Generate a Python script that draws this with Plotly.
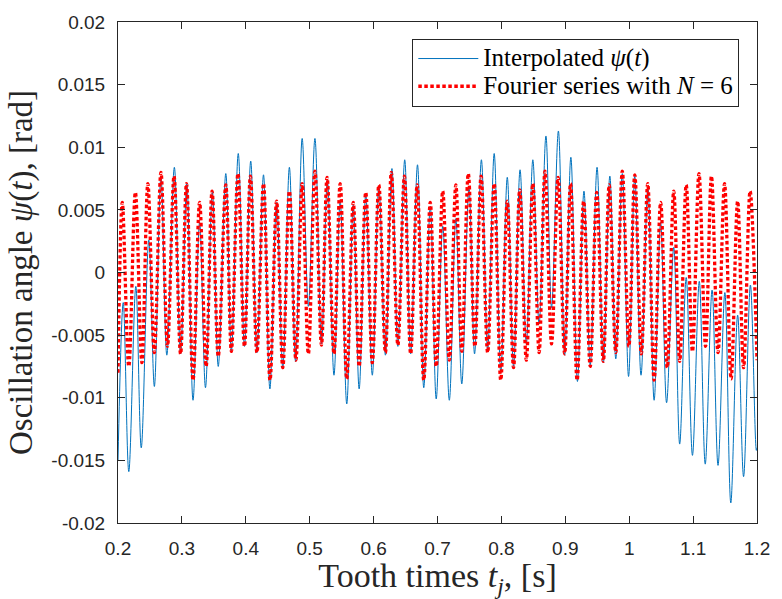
import plotly.graph_objects as go

# ---- data (extrema of each oscillation) ----
t_interp = [0.2000, 0.2082, 0.2169, 0.2279, 0.2364, 0.2482, 0.2569, 0.2672, 0.2764, 0.2882,
            0.2979, 0.3077, 0.3174, 0.3277, 0.3369, 0.3477, 0.3569, 0.3687, 0.3774, 0.3882,
            0.3979, 0.4077, 0.4174, 0.4277, 0.4377, 0.4482, 0.4579, 0.4682, 0.4779, 0.4882,
            0.4979, 0.5082, 0.5184, 0.5277, 0.5380, 0.5477, 0.5580, 0.5682, 0.5774, 0.5877,
            0.5980, 0.6082, 0.6185, 0.6287, 0.6380, 0.6487, 0.6580, 0.6687, 0.6785, 0.6887,
            0.6980, 0.7082, 0.7185, 0.7287, 0.7380, 0.7492, 0.7580, 0.7687, 0.7785, 0.7887,
            0.7990, 0.8092, 0.8190, 0.8292, 0.8390, 0.8492, 0.8590, 0.8697, 0.8785, 0.8892,
            0.8990, 0.9087, 0.9190, 0.9292, 0.9390, 0.9497, 0.9595, 0.9697, 0.9790, 0.9892,
            0.9990, 1.0087, 1.0185, 1.0292, 1.0390, 1.0492, 1.0585, 1.0697, 1.0790, 1.0892,
            1.0990, 1.1097, 1.1190, 1.1297, 1.1390, 1.1497, 1.1590, 1.1697, 1.1790, 1.1897,
            1.1990, 1.2000]
psi_interp = [-0.0150, -0.0024, -0.0159, -0.0011, -0.0140, 0.0026, -0.0091, 0.0077, -0.0066, 0.0084,
              -0.0065, 0.0071, -0.0102, 0.0040, -0.0092, 0.0064, -0.0075, 0.0079, -0.0063, 0.0095,
              -0.0059, 0.0089, -0.0064, 0.0078, -0.0093, 0.0056, -0.0076, 0.0084, -0.0071, 0.0107,
              -0.0027, 0.0107, -0.0057, 0.0074, -0.0082, 0.0057, -0.0105, 0.0054, -0.0093, 0.0062,
              -0.0082, 0.0069, -0.0066, 0.0083, -0.0059, 0.0090, -0.0065, 0.0086, -0.0092, 0.0053,
              -0.0101, 0.0037, -0.0102, 0.0043, -0.0089, 0.0068, -0.0065, 0.0090, -0.0062, 0.0095,
              -0.0080, 0.0076, -0.0075, 0.0082, -0.0057, 0.0090, -0.0041, 0.0109, -0.0028, 0.0113,
              -0.0066, 0.0092, -0.0087, 0.0065, -0.0074, 0.0084, -0.0072, 0.0077, -0.0069, 0.0079,
              -0.0083, 0.0077, -0.0082, 0.0068, -0.0102, 0.0040, -0.0104, 0.0020, -0.0137, -0.0004,
              -0.0146, -0.0007, -0.0153, -0.0014, -0.0154, -0.0016, -0.0184, -0.0034, -0.0163, -0.0010,
              -0.0142, -0.0140]

t_fourier = [0.2000, 0.2067, 0.2169, 0.2272, 0.2374, 0.2467, 0.2569, 0.2672, 0.2774, 0.2877,
             0.2979, 0.3072, 0.3174, 0.3277, 0.3379, 0.3472, 0.3569, 0.3687, 0.3774, 0.3877,
             0.3979, 0.4072, 0.4174, 0.4277, 0.4379, 0.4482, 0.4579, 0.4682, 0.4784, 0.4882,
             0.4979, 0.5082, 0.5184, 0.5272, 0.5380, 0.5477, 0.5580, 0.5682, 0.5774, 0.5877,
             0.5980, 0.6082, 0.6185, 0.6277, 0.6380, 0.6482, 0.6580, 0.6682, 0.6785, 0.6887,
             0.6980, 0.7082, 0.7185, 0.7287, 0.7380, 0.7482, 0.7585, 0.7682, 0.7785, 0.7887,
             0.7990, 0.8092, 0.8190, 0.8287, 0.8390, 0.8492, 0.8590, 0.8682, 0.8785, 0.8887,
             0.8990, 0.9082, 0.9185, 0.9287, 0.9390, 0.9492, 0.9595, 0.9687, 0.9790, 0.9892,
             0.9995, 1.0087, 1.0190, 1.0290, 1.0390, 1.0492, 1.0595, 1.0697, 1.0790, 1.0892,
             1.0990, 1.1092, 1.1195, 1.1287, 1.1390, 1.1492, 1.1595, 1.1697, 1.1790, 1.1892,
             1.2000]
psi_fourier = [-0.0080, 0.0056, -0.0075, 0.0064, -0.0072, 0.0071, -0.0064, 0.0080, -0.0059, 0.0077,
               -0.0065, 0.0071, -0.0086, 0.0056, -0.0075, 0.0065, -0.0067, 0.0070, -0.0063, 0.0079,
               -0.0059, 0.0077, -0.0064, 0.0071, -0.0086, 0.0057, -0.0076, 0.0065, -0.0070, 0.0071,
               -0.0065, 0.0081, -0.0058, 0.0076, -0.0065, 0.0071, -0.0085, 0.0056, -0.0075, 0.0064,
               -0.0072, 0.0070, -0.0064, 0.0080, -0.0058, 0.0077, -0.0065, 0.0070, -0.0086, 0.0056,
               -0.0075, 0.0065, -0.0070, 0.0070, -0.0063, 0.0079, -0.0059, 0.0077, -0.0064, 0.0071,
               -0.0086, 0.0057, -0.0076, 0.0066, -0.0070, 0.0071, -0.0064, 0.0081, -0.0057, 0.0076,
               -0.0065, 0.0071, -0.0086, 0.0057, -0.0075, 0.0064, -0.0071, 0.0070, -0.0064, 0.0081,
               -0.0059, 0.0078, -0.0065, 0.0071, -0.0086, 0.0056, -0.0076, 0.0065, -0.0071, 0.0070,
               -0.0063, 0.0079, -0.0059, 0.0077, -0.0064, 0.0071, -0.0085, 0.0057, -0.0076, 0.0065,
               -0.0070]

x_tick_vals = [0.2, 0.3, 0.4, 0.5, 0.6, 0.7, 0.8, 0.9, 1.0, 1.1, 1.2]
x_tick_text = ["0.2", "0.3", "0.4", "0.5", "0.6", "0.7", "0.8", "0.9", "1", "1.1", "1.2"]
y_tick_vals = [-0.02, -0.015, -0.01, -0.005, 0, 0.005, 0.01, 0.015, 0.02]
y_tick_text = ["-0.02", "-0.015", "-0.01", "-0.005", "0", "0.005", "0.01", "0.015", "0.02"]

LEG_SPAN = '<span style="font-size:25px">{}</span>'
name_interp = LEG_SPAN.format("Interpolated <i>ψ</i>(<i>t</i>)")
name_fourier = LEG_SPAN.format("Fourier series with <i>N</i> = 6")

AX = "#262626"
SERIF = "Liberation Serif"
SANS = "Liberation Sans, Arial, Helvetica"

fig = go.Figure()
fig.add_trace(go.Scatter(
    x=t_interp, y=psi_interp, mode="lines", name=name_interp,
    line=dict(color="#0072BD", width=1, shape="spline", smoothing=1),
))
fig.add_trace(go.Scatter(
    x=t_fourier, y=psi_fourier, mode="lines", name=name_fourier,
    line=dict(color="#FF0000", width=3.3, dash="3.5px,2.5px", shape="spline", smoothing=1),
))

axis_common = dict(
    showline=True, linecolor=AX, linewidth=1, mirror="ticks",
    ticks="inside", ticklen=7, tickwidth=1, tickcolor=AX,
    showgrid=False, zeroline=False,
    tickfont=dict(family=SANS, size=19, color=AX),
    ticklabelstandoff=8,
)

fig.update_layout(
    width=782, height=599,
    margin=dict(l=118, r=14, t=16, b=73),
    paper_bgcolor="white", plot_bgcolor="white",
    showlegend=True,
    legend=dict(
        x=0.9723, y=0.9667, xanchor="right", yanchor="top",
        bgcolor="white", bordercolor=AX, borderwidth=1,
        font=dict(family=SERIF, size=19, color="#000000"),
        itemwidth=60, tracegroupgap=0,
    ),
    xaxis=dict(
        range=[0.2, 1.2], tickvals=x_tick_vals, ticktext=x_tick_text,
        title=dict(text="Tooth times <i>t<sub>j</sub></i>, [s]",
                   font=dict(family=SERIF, size=34, color=AX), standoff=4),
        **axis_common,
    ),
    yaxis=dict(
        range=[-0.02, 0.02], tickvals=y_tick_vals, ticktext=y_tick_text,
        title=dict(text="Oscillation angle <i>ψ</i>(<i>t</i>), [rad]",
                   font=dict(family=SERIF, size=33, color=AX), standoff=8),
        **axis_common,
    ),
)

fig.write_html("out.html")
